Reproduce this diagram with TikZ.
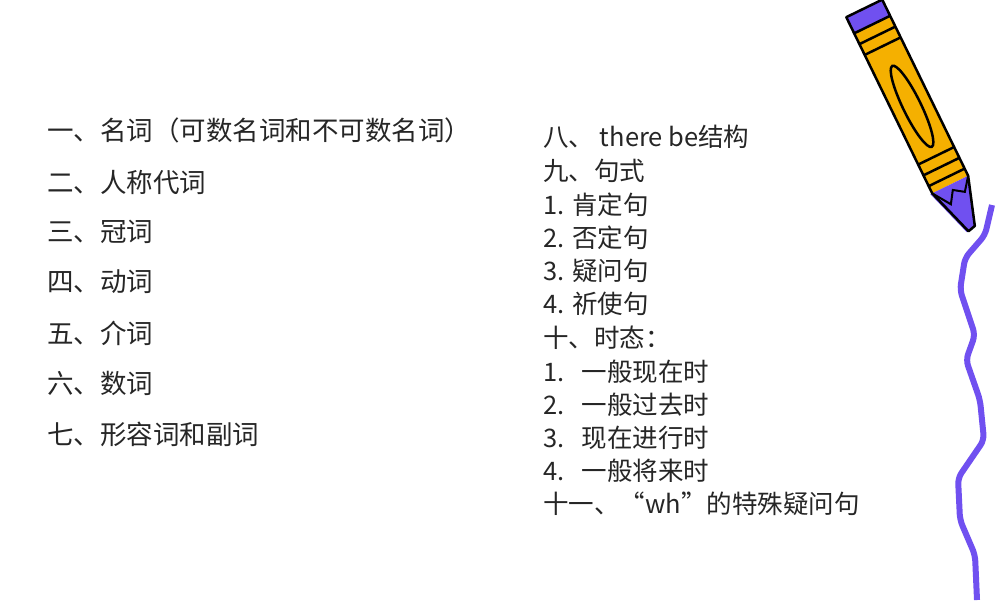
\documentclass[tikz,border=0pt]{standalone}
\usepackage{fontspec}
\setmainfont{Noto Sans CJK SC}
\definecolor{pur}{RGB}{112,80,240}
\definecolor{org}{RGB}{245,176,0}
\begin{document}
\begin{tikzpicture}[x=1pt,y=-1pt,
  it/.style={anchor=west,inner sep=0pt,font=\fontsize{26.5}{26}\selectfont,text=black!85},
  rt/.style={anchor=west,inner sep=0pt,font=\fontsize{25.5}{26}\selectfont,text=black!85}]
\useasboundingbox[fill=white] (0,0) rectangle (1000,600);
\node[it] (l1) at (47,130) {一、名词（可数名词和不可数名词）};
\node[it] (l2) at (47,182) {二、人称代词};
\node[it] (l3) at (47,232) {三、冠词};
\node[it] (l4) at (47,282) {四、动词};
\node[it] (l5) at (47,333) {五、介词};
\node[it] (l6) at (47,383) {六、数词};
\node[it] (l7) at (47,434) {七、形容词和副词};
\node[rt] (r1) at (543,137) {八、 there be结构};
\node[rt] (r2) at (543,171) {九、句式};
\node[rt] (r3) at (543,205) {1. 肯定句};
\node[rt] (r4) at (543,238) {2. 否定句};
\node[rt] (r5) at (543,271) {3. 疑问句};
\node[rt] (r6) at (543,304) {4. 祈使句};
\node[rt] (r7) at (543,338) {十、时态：};
\node[rt] (r8) at (543,372) {1.\ \ \ 一般现在时};
\node[rt] (r9) at (543,405) {2.\ \ \ 一般过去时};
\node[rt] (r10) at (543,438) {3.\ \ \ 现在进行时};
\node[rt] (r11) at (543,471) {4.\ \ \ 一般将来时};
\node[rt] (r12) at (543,504) {十一、“wh”的特殊疑问句};
% wavy line
\draw[line width=6pt,color=pur,line join=round,rounded corners=6pt]
 (992,205) -- (985,235) -- (965,258) -- (960,290) -- (975,335) -- (966,360) -- (980,400)
 -- (984,440) -- (958,478) -- (960,520) -- (975,555) -- (977,600);
% pencil
\begin{scope}[shift={(866,12)},rotate=-64]
 \fill[pur] (-4,-20) -- (14,-20) -- (14,20) -- (-4,20) -- cycle;
 \fill[org] (14,-20) rectangle (192,20);
 \fill[pur] (192,-20) -- (240,-4) -- (242,6) -- (192,22) -- cycle;
 \draw[line width=2.5pt,line join=round] (-4,-20) -- (192,-20) -- (240,-4) -- (242,4) -- (192,20) -- (-4,20) -- cycle;
 \draw[line width=2.5pt] (14,-20) -- (14,20) (26,-20) -- (26,20) (38,-20) -- (38,20);
 \draw[line width=2.5pt] (160,-20) -- (160,20) (172,-20) -- (172,20) (184,-20) -- (184,20);
 \draw[line width=2.5pt] (105,0) ellipse (45 and 9);
 \draw[line width=2pt] (192,-20) -- (205,-10) -- (198,0) -- (210,8) -- (192,20);
\end{scope}
\end{tikzpicture}
\end{document}
